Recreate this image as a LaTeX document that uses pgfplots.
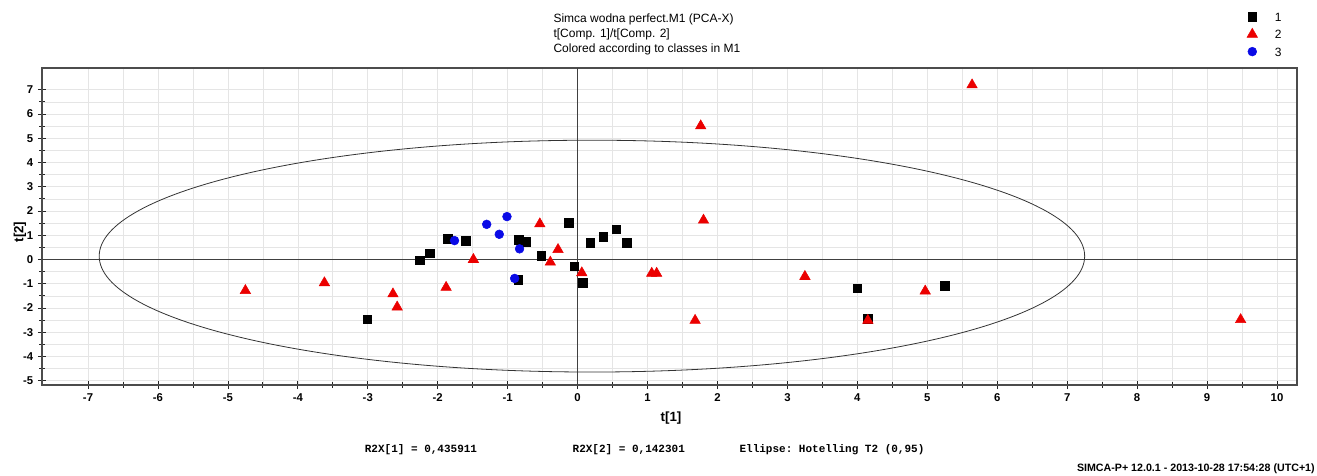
\documentclass[border=0pt]{standalone}
\usepackage{fontspec}
\setmainfont{Liberation Sans}
\setmonofont{Liberation Mono}
\usepackage{pgfplots}
\usepackage{pgfplotstable}
\pgfplotsset{compat=1.18}
\definecolor{simcared}{RGB}{235,0,0}
\definecolor{simcablue}{RGB}{10,10,230}

% scores t[1], t[2] per class
\pgfplotstableread{
x y
-3.01 -2.47
-2.26 -0.03
-2.11 0.26
-1.86 0.85
-1.60 0.77
-0.84 0.82
-0.74 0.74
-0.85 -0.84
-0.52 0.15
-0.13 1.51
-0.05 -0.28
0.07 -0.96
0.18 0.68
0.37 0.93
0.55 1.24
0.70 0.68
4.00 -1.19
4.15 -2.45
5.25 -1.08
}\classone
\pgfplotstableread{
x y
-4.75 -1.28
-3.62 -0.96
-2.64 -1.42
-2.58 -1.96
-1.88 -1.15
-1.49 0.00
-0.54 1.47
-0.39 -0.11
-0.28 0.41
0.06 -0.55
1.06 -0.57
1.13 -0.57
1.76 5.51
1.80 1.62
1.68 -2.51
3.25 -0.70
4.15 -2.51
4.97 -1.30
5.64 7.20
9.48 -2.48
}\classtwo
\pgfplotstableread{
x y
-1.76 0.78
-1.30 1.45
-1.01 1.77
-1.12 1.04
-0.83 0.44
-0.90 -0.78
}\classthree

\begin{document}
\begin{tikzpicture}
\path[use as bounding box] (-31.5pt,-67.5pt) rectangle (956.25pt,288.75pt);
\begin{axis}[
  at={(0pt,0pt)}, anchor=south west,
  scale only axis, width=941.25pt, height=237.75pt,
  xmin=-7.658, xmax=10.286, ymin=-5.175, ymax=7.897,
  xtick={-7,...,10}, ytick={-5,...,7}, minor tick num=1,
  grid=both,
  major grid style={gray!20, line width=0.5pt},
  minor grid style={gray!20, line width=0.5pt},
  xtick pos=bottom, ytick pos=left,
  tick align=center, major tick length=6pt, minor tick length=4pt,
  tick style={black!85, line width=0.6pt},
  axis line style={black!70, line width=1pt},
  /pgf/number format/assume math mode=true,
  tick label style={font=\fontsize{8.5}{10}\selectfont\bfseries},
  xlabel={t[1]}, ylabel={t[2]},
  label style={font=\fontsize{10}{12}\selectfont\bfseries},
  xlabel style={at={(axis description cs:0.5012,-0.104)}, anchor=center},
  ylabel style={at={(axis description cs:-0.0175,0.4826)}, anchor=center},
  legend style={at={(axis description cs:0.9599,1.1817)}, anchor=north west,
    draw=none, fill=none, inner sep=0pt, row sep=4pt,
    font=\fontsize{9}{10}\selectfont,
    nodes={inner sep=0pt, text height=7pt, text depth=0pt, anchor=base west}},
  every axis plot post/.append style={
    legend image code/.code={\draw[##1] plot coordinates {(0pt,3.3pt)};
      \path[draw=none, fill=none] (-4pt,-1pt) rectangle (17pt,8pt);}},
]
\draw[black!75, line width=0.8pt] (axis cs:0,-5.175) -- (axis cs:0,7.897);
\draw[black!75, line width=0.8pt] (axis cs:-7.658,0) -- (axis cs:10.286,0);
\draw[black!80, line width=0.6pt] (axis cs:0.205,0.14) ellipse [x radius=7.045, y radius=4.78];
\addplot[only marks, mark=square*, mark size=3.2pt, color=black] table {\classone};
\addplot[only marks, mark=triangle*, mark size=4.5pt, color=simcared] table {\classtwo};
\addplot[only marks, mark=*, mark size=3.3pt, color=simcablue] table {\classthree};
\legend{1,2,3}
\end{axis}
\begin{scope}[x=0.75pt, y=-0.75pt, shift={(-31.5pt,288.75pt)}]
  \begin{scope}[every node/.style={anchor=base west, inner sep=0pt, font=\fontsize{9}{11}\selectfont}]
    \node at (553.3,22.5) {Simca wodna perfect.M1 (PCA-X)};
    \node at (553.3,37.5) {t[Comp. 1]/t[Comp. 2]};
    \node at (553.3,52.5) {Colored according to classes in M1};
  \end{scope}
  \begin{scope}[every node/.style={anchor=base west, inner sep=0pt, font=\ttfamily\bfseries\fontsize{8.25}{10}\selectfont}]
    \node at (364.6,452.5) {R2X[1] = 0,435911};
    \node at (572.4,452.5) {R2X[2] = 0,142301};
    \node at (739.3,452.5) {Ellipse: Hotelling T2 (0,95)};
  \end{scope}
  \node[anchor=base east, inner sep=0pt, font=\bfseries\fontsize{8}{10}\selectfont] at (1315,471) {SIMCA-P+ 12.0.1 - 2013-10-28 17:54:28 (UTC+1)};
\end{scope}
\end{tikzpicture}
\end{document}
